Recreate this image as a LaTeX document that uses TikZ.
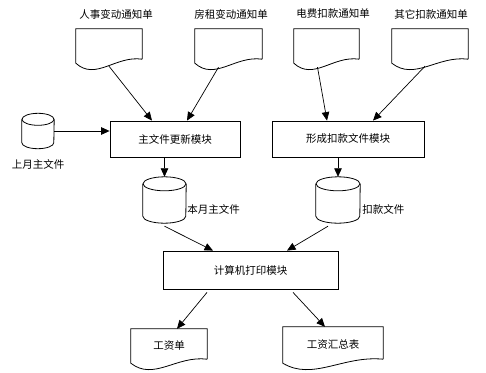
\documentclass[tikz,border=0pt]{standalone}
\usepackage{fontspec}
\newfontfamily\cjk{Noto Sans CJK SC}
\usetikzlibrary{positioning,arrows.meta,calc}

\begin{document}
\begin{tikzpicture}[x=1pt, y=1pt,
  modbox/.style={draw, line width=0.8pt, minimum height=36pt, inner sep=0pt,
    font=\cjk\fontsize{10.5}{12}\selectfont},
  docbox/.style={minimum height=34pt, inner sep=0pt,
    font=\cjk\fontsize{10.5}{12}\selectfont},
  diskbox/.style={inner sep=0pt},
  lbl/.style={inner sep=1pt, font=\cjk\fontsize{10.5}{12}\selectfont},
  flow/.style={-{Triangle[length=8.5pt,width=7.5pt]}, line width=0.7pt},
]
  \useasboundingbox (0,0) rectangle (486,-372);
  % Notificaciones de entrada
  \node[docbox, minimum width=66pt] (d1) at (109,-46) {};
  \node[docbox, minimum width=67pt] (d2) at (228.5,-46) {};
  \node[docbox, minimum width=65pt] (d3) at (326.5,-46) {};
  \node[docbox, minimum width=76pt] (d4) at (430,-46) {};
  \node[lbl] (t1) at (116,-14) {人事变动通知单};
  \node[lbl] (t2) at (231,-14) {房租变动通知单};
  \node[lbl] (t3) at (333,-14) {电费扣款通知单};
  \node[lbl] (t4) at (431,-14) {其它扣款通知单};
  % Modulos
  \node[modbox, minimum width=130pt] (m1) at (175,-139) {主文件更新模块};
  \node[modbox, minimum width=152pt] (m2) at (348,-139) {形成扣款文件模块};
  \node[modbox, minimum width=175pt, minimum height=38pt] (m3) at (250.5,-270) {计算机打印模块};
  % Archivos
  \node[diskbox, minimum width=32pt, minimum height=35pt] (c0) at (38,-131) {};
  \node[diskbox, minimum width=43pt, minimum height=46pt] (c1) at (164.5,-200) {};
  \node[diskbox, minimum width=44pt, minimum height=46pt] (c2) at (338,-200) {};
  \node[lbl, below=10pt of c0] (l0) {上月主文件};
  \node[lbl, right=0pt of c1, yshift=-9pt] (l1) {本月主文件};
  \node[lbl, right=1pt of c2, yshift=-9pt] (l2) {扣款文件};
  % Salidas
  \node[docbox, minimum width=76pt] (o1) at (169,-346) {工资单};
  \node[docbox, minimum width=100pt, minimum height=36pt] (o2) at (333,-345) {工资汇总表};
  % Contornos de documento
  \foreach \n in {d1,d2,d3,d4,o1,o2}
    \draw[line width=0.8pt] ([yshift=4]\n.south east) -- (\n.north east) -- (\n.north west)
      -- (\n.south west)
      .. controls ($(\n.south west)!0.3!(\n.south east)+(0,-18)$)
      and ($(\n.south west)!0.6!(\n.south east)+(0,8)$) .. ([yshift=4]\n.south east);
  % Contornos de cilindro
  \foreach \n/\r/\e in {c0/16/6, c1/21.5/7, c2/22/7}{
    \draw[line width=0.8pt] ([yshift=-\e]\n.north west) -- ([yshift=\e]\n.south west)
      arc[start angle=180, end angle=360, x radius=\r, y radius=\e]
      -- ([yshift=-\e]\n.north east);
    \draw[line width=0.8pt] ([yshift=-\e]\n.north) ellipse[x radius=\r, y radius=\e];
  }
  % Flechas
  \draw[flow] ([yshift=-3]d1.south) -- ([xshift=-23]m1.north);
  \draw[flow] ([xshift=-10,yshift=-4]d2.south) -- ([xshift=12]m1.north);
  \draw[flow] ([xshift=-9,yshift=-4]d3.south) -- ([xshift=-21]m2.north);
  \draw[flow] ([xshift=-5,yshift=-3]d4.south) -- ([xshift=25]m2.north);
  \draw[flow] (c0.east) -- (c0.east -| m1.west);
  \draw[flow] (m1.south -| c1.north) -- (c1.north);
  \draw[flow] (m2.south -| c2.north) -- (c2.north);
  \draw[flow] ([yshift=-3]c1.south) -- ([xshift=-37.5]m3.north);
  \draw[flow] ([xshift=-10,yshift=-3]c2.south) -- ([xshift=36.5]m3.north);
  \draw[flow] ([xshift=-43.5,yshift=-3]m3.south) -- ([xshift=8]o1.north);
  \draw[flow] ([xshift=42.5,yshift=-3]m3.south) -- ([xshift=-8]o2.north);
\end{tikzpicture}
\end{document}
